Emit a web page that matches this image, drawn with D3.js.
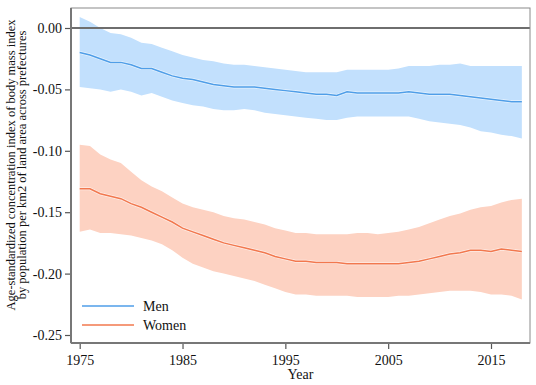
<!DOCTYPE html>
<html>
<head>
<meta charset="utf-8">
<script src="https://cdn.jsdelivr.net/npm/d3@7"></script>
<style>
  body { margin: 0; background: #fff; }
  svg, svg text { font-family: "Liberation Serif", "Times New Roman", serif; }
</style>
</head>
<body>
<div id="chart"></div>
<script>
"use strict";

// === Data (1975-2018) ===
const years = d3.range(1975, 2019);

const menMid = [-0.020, -0.022, -0.025, -0.028, -0.028, -0.030, -0.033, -0.033, -0.036, -0.039,
  -0.041, -0.042, -0.044, -0.046, -0.047, -0.048, -0.048, -0.048, -0.049, -0.050,
  -0.051, -0.052, -0.053, -0.054, -0.054, -0.055, -0.052, -0.053, -0.053, -0.053,
  -0.053, -0.053, -0.052, -0.053, -0.054, -0.054, -0.054, -0.055, -0.056, -0.057,
  -0.058, -0.059, -0.060, -0.060];
const menHigh = [0.009, 0.005, 0.000, -0.004, -0.005, -0.008, -0.012, -0.013, -0.016, -0.019,
  -0.022, -0.024, -0.026, -0.027, -0.029, -0.030, -0.030, -0.031, -0.032, -0.033,
  -0.034, -0.035, -0.036, -0.036, -0.036, -0.036, -0.034, -0.034, -0.034, -0.034,
  -0.034, -0.033, -0.031, -0.031, -0.031, -0.030, -0.030, -0.029, -0.031, -0.031,
  -0.031, -0.031, -0.031, -0.031];
const menLow = [-0.048, -0.049, -0.050, -0.052, -0.050, -0.052, -0.055, -0.053, -0.056, -0.059,
  -0.061, -0.063, -0.064, -0.066, -0.067, -0.067, -0.066, -0.067, -0.069, -0.070,
  -0.071, -0.072, -0.073, -0.074, -0.075, -0.075, -0.073, -0.072, -0.072, -0.072,
  -0.072, -0.072, -0.072, -0.074, -0.076, -0.077, -0.078, -0.079, -0.081, -0.084,
  -0.085, -0.087, -0.088, -0.090];

const womenMid = [-0.131, -0.131, -0.135, -0.137, -0.139, -0.143, -0.146, -0.150, -0.154, -0.158,
  -0.163, -0.166, -0.169, -0.172, -0.175, -0.177, -0.179, -0.181, -0.183, -0.186,
  -0.188, -0.190, -0.190, -0.191, -0.191, -0.191, -0.192, -0.192, -0.192, -0.192,
  -0.192, -0.192, -0.191, -0.190, -0.188, -0.186, -0.184, -0.183, -0.181, -0.181,
  -0.182, -0.180, -0.181, -0.182];
const womenHigh = [-0.095, -0.096, -0.103, -0.107, -0.110, -0.117, -0.124, -0.129, -0.133, -0.138,
  -0.143, -0.146, -0.148, -0.150, -0.153, -0.155, -0.156, -0.158, -0.160, -0.163,
  -0.165, -0.167, -0.167, -0.168, -0.168, -0.168, -0.168, -0.167, -0.167, -0.168,
  -0.167, -0.166, -0.164, -0.162, -0.159, -0.156, -0.153, -0.151, -0.148, -0.146,
  -0.145, -0.142, -0.140, -0.139];
const womenLow = [-0.166, -0.164, -0.167, -0.167, -0.168, -0.169, -0.171, -0.173, -0.176, -0.181,
  -0.187, -0.192, -0.195, -0.198, -0.200, -0.202, -0.204, -0.206, -0.209, -0.212,
  -0.215, -0.217, -0.217, -0.218, -0.218, -0.218, -0.218, -0.219, -0.219, -0.219,
  -0.219, -0.218, -0.218, -0.217, -0.216, -0.215, -0.214, -0.214, -0.214, -0.215,
  -0.217, -0.217, -0.218, -0.221];

const xTicks = [1975, 1985, 1995, 2005, 2015];
const yTicks = [0, -0.05, -0.10, -0.15, -0.20, -0.25];
const seriesNames = ["Men", "Women"];

// === SVG setup ===
const svgWidth = 536, svgHeight = 385;
const frame = { left: 71, right: 530, top: 8, bottom: 343 };
const serif = "Liberation Serif";

const svg = d3.select("#chart")
  .append("svg")
  .attr("width", svgWidth)
  .attr("height", svgHeight)
  .attr("font-family", serif);

// === Scales ===
const xScale = d3.scaleLinear()
  .domain([1975, 2015])
  .range([79.7, 491]);

const yScale = d3.scaleLinear()
  .domain([0, -0.25])
  .range([28, 335]);

// === Series ===
const series = [
  { name: "Men", mid: menMid, high: menHigh, low: menLow, fill: "#c2e0fd", line: "#4f9ee8" },
  { name: "Women", mid: womenMid, high: womenHigh, low: womenLow, fill: "#fdd2c2", line: "#f2784e" }
];

const area = d3.area()
  .x((d, i) => xScale(years[i]))
  .y0(d => yScale(d[0]))
  .y1(d => yScale(d[1]));

const line = d3.line()
  .x((d, i) => xScale(years[i]))
  .y(d => yScale(d));

series.forEach(s => {
  svg.append("path")
    .datum(s.low.map((v, i) => [v, s.high[i]]))
    .attr("d", area)
    .attr("fill", s.fill);
});

// zero reference line
svg.append("line")
  .attr("x1", frame.left)
  .attr("x2", frame.right)
  .attr("y1", yScale(0))
  .attr("y2", yScale(0))
  .attr("stroke", "#6e6e6e")
  .attr("stroke-width", 2);

series.forEach(s => {
  svg.append("path")
    .datum(s.mid)
    .attr("d", line)
    .attr("fill", "none")
    .attr("stroke", "#ffffff")
    .attr("stroke-opacity", 0.6)
    .attr("stroke-width", 3);
  svg.append("path")
    .datum(s.mid)
    .attr("d", line)
    .attr("fill", "none")
    .attr("stroke", s.line)
    .attr("stroke-width", 1.5);
});

// === Frame ===
svg.append("rect")
  .attr("x", frame.left)
  .attr("y", frame.top)
  .attr("width", frame.right - frame.left)
  .attr("height", frame.bottom - frame.top)
  .attr("fill", "none")
  .attr("stroke", "#8a8a8a")
  .attr("stroke-width", 1);

// === Axes ===
const xAxis = svg.append("g")
  .attr("transform", `translate(0, ${frame.bottom})`)
  .call(d3.axisBottom(xScale).tickValues(xTicks).tickFormat(d3.format("d"))
    .tickSize(6).tickPadding(6).tickSizeOuter(0));

const yAxis = svg.append("g")
  .attr("transform", `translate(${frame.left}, 0)`)
  .call(d3.axisLeft(yScale).tickValues(yTicks).tickFormat(d3.format(".2f"))
    .tickSize(6).tickPadding(3).tickSizeOuter(0));

[xAxis, yAxis].forEach(g => {
  g.attr("font-family", serif).attr("font-size", 14);
  g.select(".domain").remove();
  g.selectAll(".tick line").attr("stroke", "#555").attr("stroke-width", 1.2);
  g.selectAll(".tick text")
    .style("font-family", serif)
    .style("font-size", "14px")
    .attr("fill", "#111");
});
yAxis.selectAll(".tick text").text(d => d3.format(".2f")(d).replace("−", "-"));

// heavier left and bottom axis lines
svg.append("line")
  .attr("x1", frame.left).attr("x2", frame.left)
  .attr("y1", frame.top).attr("y2", frame.bottom)
  .attr("stroke", "#777").attr("stroke-width", 2);
svg.append("line")
  .attr("x1", frame.left).attr("x2", frame.right)
  .attr("y1", frame.bottom).attr("y2", frame.bottom)
  .attr("stroke", "#777").attr("stroke-width", 2);

// === Axis labels ===
svg.append("text")
  .attr("x", (frame.left + frame.right) / 2)
  .attr("y", 379)
  .attr("text-anchor", "middle")
  .attr("font-size", "14px")
  .attr("fill", "#111")
  .text("Year");

const yLabel = svg.append("text")
  .attr("transform", "translate(15, 165) rotate(-90)")
  .attr("text-anchor", "middle")
  .attr("font-size", "12.5px")
  .attr("fill", "#111");
yLabel.append("tspan").attr("x", 0).attr("y", 0)
  .text("Age-standardized concentration index of body mass index");
yLabel.append("tspan").attr("x", 0).attr("y", 11)
  .text("by population per km2 of land area across prefectures");

// === Legend ===
series.forEach((s, i) => {
  const ly = 306 + i * 19;
  svg.append("line")
    .attr("x1", 82).attr("x2", 134)
    .attr("y1", ly).attr("y2", ly)
    .attr("stroke", s.line)
    .attr("stroke-width", 1.6);
  svg.append("text")
    .attr("x", 143)
    .attr("y", ly + 5)
    .attr("font-size", "14px")
    .attr("fill", "#111")
    .text(seriesNames[i]);
});
</script>
</body>
</html>
